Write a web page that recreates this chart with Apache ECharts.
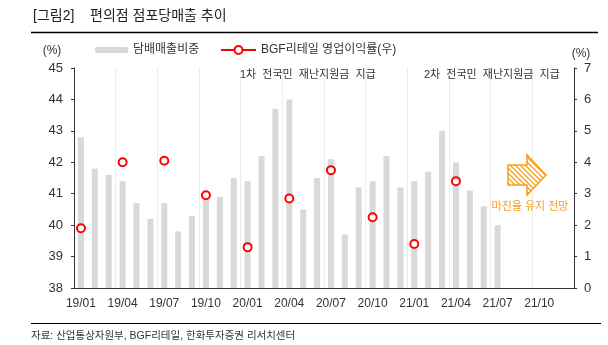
<!DOCTYPE html>
<html><head><meta charset="utf-8">
<script src="https://cdn.jsdelivr.net/npm/echarts@6/dist/echarts.min.js"></script>
<style>html,body{margin:0;padding:0;background:#fff}#c{width:608px;height:345px}</style>
</head><body><div id="c"></div>
<script>
const months = ['19/01','19/02','19/03','19/04','19/05','19/06','19/07','19/08','19/09','19/10','19/11','19/12',
                '20/01','20/02','20/03','20/04','20/05','20/06','20/07','20/08','20/09','20/10','20/11','20/12',
                '21/01','21/02','21/03','21/04','21/05','21/06','21/07','21/08','21/09','21/10','21/11','21/12'];
// 담배매출비중 (%), 19/01 ~ 21/07
const tobaccoShare = [42.8, 41.8, 41.6, 41.4, 40.7, 40.2, 40.7, 39.8, 40.3, 41.0, 40.9, 41.5,
                      41.4, 42.2, 43.7, 44.0, 40.5, 41.5, 42.1, 39.7, 41.2, 41.4, 42.2, 41.2,
                      41.4, 41.7, 43.0, 42.0, 41.1, 40.6, 40.0];
// BGF리테일 영업이익률 (%, 우축), quarterly
const marginMonths = ['19/01','19/04','19/07','19/10','20/01','20/04','20/07','20/10','21/01','21/04'];
const marginValues = [1.9, 4.0, 4.05, 2.95, 1.3, 2.85, 3.75, 2.25, 1.4, 3.4];
const leftAxisRange = [38, 45];
const rightAxisRange = [0, 7];

const FONT = '"Liberation Sans", "Noto Sans CJK KR", sans-serif';
const barData = months.map((m, i) => i < tobaccoShare.length ? tobaccoShare[i] : null);
const lineData = months.map(m => { const k = marginMonths.indexOf(m); return k >= 0 ? marginValues[k] : null; });

// hatch pattern
const pc = document.createElement('canvas');
pc.width = 5; pc.height = 5;
const g = pc.getContext('2d');
g.fillStyle = '#fff'; g.fillRect(0,0,5,5);
g.strokeStyle = '#f5a21e'; g.lineWidth = 1.3;
g.beginPath(); g.moveTo(-1,-1); g.lineTo(6,6); g.moveTo(-1,4); g.lineTo(1,6); g.moveTo(4,-1); g.lineTo(6,1); g.stroke();
const ORANGE = '#f5a01e';

const chart = echarts.init(document.getElementById('c'), null, {renderer: 'canvas'});
chart.setOption({
  animation: false,
  textStyle: {fontFamily: FONT},
  grid: {left: 74, right: 34, top: 68, bottom: 57, containLabel: false},
  legend: [
    {data: ['담배매출비중'], left: 95, top: 44, padding: 0, itemWidth: 33, itemHeight: 6,
     textStyle: {fontFamily: FONT, fontSize: 12, color: '#333'}},
    {data: ['BGF리테일 영업이익률(우)'], left: 220, top: 44, padding: 0, itemWidth: 35, itemHeight: 10,
     textStyle: {fontFamily: FONT, fontSize: 12, color: '#333'}}
  ],
  xAxis: {
    type: 'category', data: months, boundaryGap: true,
    axisLine: {lineStyle: {color: '#333', width: 1}},
    axisTick: {interval: 2, length: 3, lineStyle: {color: '#333'}},
    axisLabel: {interval: 2, fontSize: 12, color: '#333', margin: 10, fontFamily: FONT},
    splitLine: {show: true, interval: 2, lineStyle: {color: '#ebebeb', width: 1}}
  },
  yAxis: [
    {type: 'value', min: leftAxisRange[0], max: leftAxisRange[1], interval: 1, position: 'left',
     axisLine: {show: true, lineStyle: {color: '#333'}},
     axisTick: {show: true, length: 3, lineStyle: {color: '#333'}},
     axisLabel: {fontSize: 13, color: '#333', margin: 11, fontFamily: FONT},
     splitLine: {show: false}},
    {type: 'value', min: rightAxisRange[0], max: rightAxisRange[1], interval: 1, position: 'right',
     axisLine: {show: true, lineStyle: {color: '#333'}},
     axisTick: {show: true, length: 3, lineStyle: {color: '#333'}},
     axisLabel: {fontSize: 13, color: '#333', margin: 10, fontFamily: FONT},
     splitLine: {show: false}}
  ],
  series: [
    {name: '담배매출비중', type: 'bar', data: barData, barWidth: 6, yAxisIndex: 0,
     itemStyle: {color: '#d9d9d9'}, z: 2},
    {name: 'BGF리테일 영업이익률(우)', type: 'line', data: lineData, yAxisIndex: 1,
     connectNulls: false, showAllSymbol: true, symbol: 'emptyCircle', symbolSize: 8,
     lineStyle: {color: '#ff0000', width: 2},
     itemStyle: {color: '#ff0000', borderColor: '#ff0000', borderWidth: 2.6}, z: 5}
  ],
  graphic: [
    {type: 'text', style: {text: '[그림2]', x: 33, y: 16, verticalAlign: 'middle', font: '14px ' + FONT, fill: '#222'}},
    {type: 'text', style: {text: '편의점 점포당매출 추이', x: 90, y: 16, verticalAlign: 'middle', font: '14px ' + FONT, fill: '#222'}},
    {type: 'line', shape: {x1: 31, y1: 32.5, x2: 598, y2: 32.5}, style: {stroke: '#000', lineWidth: 1.5}},
    {type: 'text', style: {text: '(%)', x: 52, y: 51, align: 'center', verticalAlign: 'middle', font: '12px ' + FONT, fill: '#333'}},
    {type: 'text', style: {text: '(%)', x: 581, y: 54, align: 'center', verticalAlign: 'middle', font: '12px ' + FONT, fill: '#333'}},
    {type: 'text', style: {text: '1차  전국민  재난지원금  지급', x: 240, y: 75, verticalAlign: 'middle', font: '11px ' + FONT, fill: '#333'}, z: 10},
    {type: 'text', style: {text: '2차  전국민  재난지원금  지급', x: 424, y: 75, verticalAlign: 'middle', font: '11px ' + FONT, fill: '#333'}, z: 10},
    {type: 'polygon', shape: {points: [[508,165],[527,165],[527,155],[546,175],[527,195],[527,185],[508,185]]},
     style: {fill: {image: pc, repeat: 'repeat'}, stroke: ORANGE, lineWidth: 1.5}, z: 10},
    {type: 'text', style: {text: '마진율 유지 전망', x: 530, y: 207, align: 'center', verticalAlign: 'middle', font: '11px ' + FONT, fill: ORANGE}, z: 10},
    {type: 'line', shape: {x1: 31, y1: 323.5, x2: 601, y2: 323.5}, style: {stroke: '#000', lineWidth: 1}},
    {type: 'text', style: {text: '자료: 산업통상자원부, BGF리테일, 한화투자증권 리서치센터', x: 31, y: 336, verticalAlign: 'middle', font: '10.5px ' + FONT, fill: '#333'}}
  ]
});
</script></body></html>
